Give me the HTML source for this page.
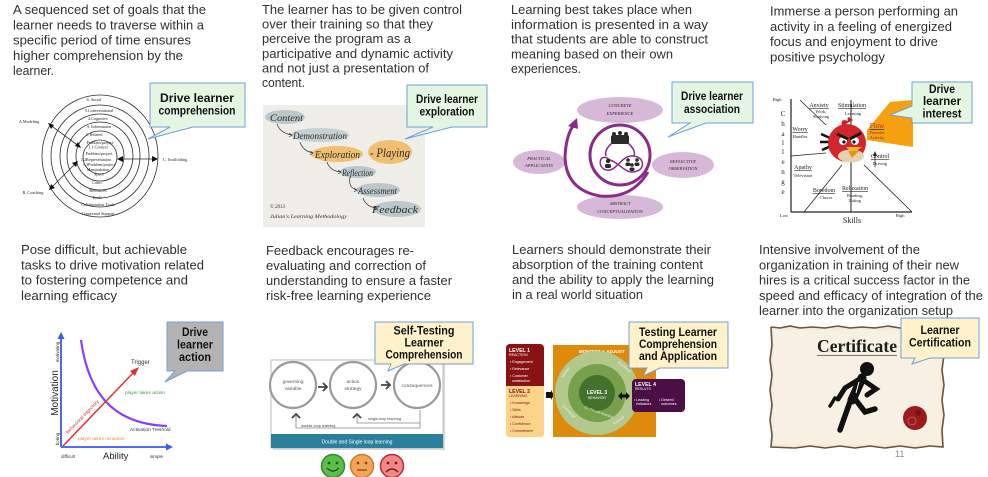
<!DOCTYPE html>
<html><head><meta charset="utf-8">
<style>
html,body{margin:0;padding:0;background:#fff;}
svg{display:block;}
.p{font-family:"Liberation Sans",sans-serif;font-size:13px;fill:#303030;}
.cb{font-family:"Liberation Sans",sans-serif;font-weight:bold;font-size:11.5px;fill:#111;text-anchor:middle;}
.s{font-family:"Liberation Serif",serif;fill:#222;text-anchor:middle;}
.t{font-family:"Liberation Sans",sans-serif;}
.h{font-family:"Liberation Serif",serif;font-style:italic;fill:#2b2b2b;}
</style></head><body>
<svg width="988" height="477" viewBox="0 0 988 477" xmlns="http://www.w3.org/2000/svg">
<rect width="988" height="477" fill="#fff"/>

<!-- ===== Paragraph texts ===== -->
<g class="p">
<text x="13" y="14" textLength="193" lengthAdjust="spacingAndGlyphs">A sequenced set of goals that the</text>
<text x="13" y="29.25" textLength="191" lengthAdjust="spacingAndGlyphs">learner needs to traverse within a</text>
<text x="13" y="44.5" textLength="178" lengthAdjust="spacingAndGlyphs">specific period of time ensures</text>
<text x="13" y="59.75" textLength="170" lengthAdjust="spacingAndGlyphs">higher comprehension by the</text>
<text x="13" y="75" textLength="41" lengthAdjust="spacingAndGlyphs">learner.</text>

<text x="262" y="14" textLength="200" lengthAdjust="spacingAndGlyphs">The learner has to be given control</text>
<text x="262" y="28.6" textLength="171" lengthAdjust="spacingAndGlyphs">over their training so that they</text>
<text x="262" y="43.2" textLength="149" lengthAdjust="spacingAndGlyphs">perceive the program as a</text>
<text x="262" y="57.8" textLength="191" lengthAdjust="spacingAndGlyphs">participative and dynamic activity</text>
<text x="262" y="72.4" textLength="167" lengthAdjust="spacingAndGlyphs">and not just a presentation of</text>
<text x="262" y="87" textLength="43" lengthAdjust="spacingAndGlyphs">content.</text>

<text x="511" y="14" textLength="181" lengthAdjust="spacingAndGlyphs">Learning best takes place when</text>
<text x="511" y="28.75" textLength="197" lengthAdjust="spacingAndGlyphs">information is presented in a way</text>
<text x="511" y="43.5" textLength="197" lengthAdjust="spacingAndGlyphs">that students are able to construct</text>
<text x="511" y="58.25" textLength="162" lengthAdjust="spacingAndGlyphs">meaning based on their own</text>
<text x="511" y="73" textLength="70" lengthAdjust="spacingAndGlyphs">experiences.</text>

<text x="770" y="15.5" textLength="188" lengthAdjust="spacingAndGlyphs">Immerse a person performing an</text>
<text x="770" y="30.8" textLength="182" lengthAdjust="spacingAndGlyphs">activity in a feeling of energized</text>
<text x="770" y="46.1" textLength="168" lengthAdjust="spacingAndGlyphs">focus and enjoyment to drive</text>
<text x="770" y="61.4" textLength="115" lengthAdjust="spacingAndGlyphs">positive psychology</text>

<text x="21" y="254" textLength="166" lengthAdjust="spacingAndGlyphs">Pose difficult, but achievable</text>
<text x="21" y="269.3" textLength="183" lengthAdjust="spacingAndGlyphs">tasks to drive motivation related</text>
<text x="21" y="284.6" textLength="167" lengthAdjust="spacingAndGlyphs">to fostering competence and</text>
<text x="21" y="300" textLength="96" lengthAdjust="spacingAndGlyphs">learning efficacy</text>

<text x="266" y="255" textLength="148" lengthAdjust="spacingAndGlyphs">Feedback encourages re-</text>
<text x="266" y="270" textLength="160" lengthAdjust="spacingAndGlyphs">evaluating and correction of</text>
<text x="266" y="285" textLength="186" lengthAdjust="spacingAndGlyphs">understanding to ensure a faster</text>
<text x="266" y="300" textLength="165" lengthAdjust="spacingAndGlyphs">risk-free learning experience</text>

<text x="512" y="254" textLength="199" lengthAdjust="spacingAndGlyphs">Learners should demonstrate their</text>
<text x="512" y="269" textLength="191" lengthAdjust="spacingAndGlyphs">absorption of the training content</text>
<text x="512" y="284" textLength="202" lengthAdjust="spacingAndGlyphs">and the ability to apply the learning</text>
<text x="512" y="299" textLength="131" lengthAdjust="spacingAndGlyphs">in a real world situation</text>

<text x="759" y="254" textLength="161" lengthAdjust="spacingAndGlyphs">Intensive involvement of the</text>
<text x="759" y="269.25" textLength="200" lengthAdjust="spacingAndGlyphs">organization in training of their new</text>
<text x="759" y="284.5" textLength="211" lengthAdjust="spacingAndGlyphs">hires is a critical success factor in the</text>
<text x="759" y="299.75" textLength="224" lengthAdjust="spacingAndGlyphs">speed and efficacy of integration of the</text>
<text x="759" y="315" textLength="194" lengthAdjust="spacingAndGlyphs">learner into the organization setup</text>
</g>

<!-- ===== Panel 1: concentric circles ===== -->
<g fill="none" stroke="#2a2a2a" stroke-width="0.8">
<ellipse cx="100" cy="156" rx="58" ry="61"/>
<ellipse cx="100" cy="156" rx="49" ry="51"/>
<ellipse cx="100" cy="156" rx="40" ry="42"/>
<ellipse cx="100" cy="156" rx="33" ry="34"/>
<ellipse cx="100" cy="156" rx="24" ry="25"/>
<ellipse cx="100" cy="157" rx="17" ry="17"/>
<line x1="49" y1="124" x2="80" y2="147"/>
<line x1="50" y1="189" x2="77" y2="162"/>
<line x1="157" y1="159" x2="118" y2="159"/>
</g>
<g fill="#111">
<polygon points="48,123 54,125 51,129"/>
<polygon points="81,148 75,146 78,142"/>
<polygon points="49,190 51,184 55,188"/>
<polygon points="78,161 76,167 72,163"/>
<polygon points="158,159 152,156 152,162"/>
<polygon points="117,159 123,156 123,162"/>
</g>
<g class="s" font-size="4.2">
<text x="94" y="101">6. Social</text>
<text x="99" y="112">5.Conversational</text>
<text x="98" y="120">4.Cognitive</text>
<text x="99" y="128">3. Information</text>
<text x="94" y="136">2. Related</text>
<text x="100" y="144">Problem/project</text>
<text x="98" y="148.5">1.1 Context</text>
<text x="99" y="155">Problem/project</text>
<text x="96" y="161">1.2Representation</text>
<text x="99" y="166">1.3Problem/project</text>
<text x="98" y="171">Manipulation</text>
<text x="99" y="175.5">Space</text>
<text x="97" y="184">Cases</text>
<text x="98" y="192">Resources</text>
<text x="97" y="199">Tools</text>
<text x="98" y="206">Collaboration Tools</text>
<text x="98" y="215">Contextual Support</text>
<text x="29" y="123">A.Modeling</text>
<text x="33" y="194">B. Coaching</text>
<text x="175" y="161">C. Scaffolding</text>
</g>
<!-- callout 1 -->
<path d="M150,83 H245 V127 H193 L148,139 L170,127 H150 Z" fill="#e4f5e2" stroke="#6fa0d9" stroke-width="1"/>
<text class="cb" x="197" y="102" textLength="74" lengthAdjust="spacingAndGlyphs">Drive learner</text>
<text class="cb" x="197" y="114.5" textLength="77" lengthAdjust="spacingAndGlyphs">comprehension</text>

<!-- ===== Panel 2: exploration sketch ===== -->
<rect x="263" y="105" width="162" height="122" fill="#efede7"/>
<g opacity="0.75">
<ellipse cx="285" cy="117" rx="20" ry="7" fill="#a9bcc2"/>
<ellipse cx="320" cy="135" rx="29" ry="7" fill="#b7c7cb"/>
<ellipse cx="337" cy="154" rx="26" ry="8" fill="#f1b04a"/>
<ellipse cx="390" cy="152" rx="22" ry="12" fill="#f1b04a"/>
<ellipse cx="358" cy="172" rx="18" ry="6" fill="#a9bcc2"/>
<ellipse cx="378" cy="190" rx="22" ry="7" fill="#a9bcc2"/>
<ellipse cx="397" cy="209" rx="24" ry="8" fill="#a9bcc2"/>
</g>
<g class="h">
<text x="270" y="121" font-size="9" textLength="33" lengthAdjust="spacingAndGlyphs">Content</text>
<text x="293" y="139" font-size="9" textLength="54" lengthAdjust="spacingAndGlyphs">Demonstration</text>
<text x="315" y="158" font-size="10" textLength="45" lengthAdjust="spacingAndGlyphs">Exploration</text>
<text x="370" y="157" font-size="13" textLength="40" lengthAdjust="spacingAndGlyphs">- Playing</text>
<text x="342" y="176" font-size="9" textLength="31" lengthAdjust="spacingAndGlyphs">Reflection</text>
<text x="358" y="194" font-size="9" textLength="39" lengthAdjust="spacingAndGlyphs">Assessment</text>
<text x="372" y="213" font-size="11" textLength="46" lengthAdjust="spacingAndGlyphs">Feedback</text>
<text x="270" y="208" font-size="5">© 2013</text>
<text x="270" y="218" font-size="5.5" textLength="77" lengthAdjust="spacingAndGlyphs">Julian's Learning Methodology</text>
</g>
<g fill="none" stroke="#333" stroke-width="0.7">
<path d="M277,124 Q280,133 292,135"/><path d="M289,133 L292,135 L289,137"/>
<path d="M300,142 Q303,151 313,153"/><path d="M310,151 L313,153 L310,155"/>
<path d="M327,162 Q330,171 341,172"/><path d="M338,170 L341,172 L338,174"/>
<path d="M350,177 Q348,188 357,190"/><path d="M354,188 L357,190 L354,192"/>
<path d="M363,198 Q366,207 377,208"/><path d="M374,206 L377,208 L374,210"/>
</g>
<!-- callout 2 -->
<path d="M407,85 H487 V127 H452 L405,139 L433,127 H407 Z" fill="#e4f5e2" stroke="#6fa0d9" stroke-width="1"/>
<text class="cb" x="447" y="103" textLength="62" lengthAdjust="spacingAndGlyphs">Drive learner</text>
<text class="cb" x="447" y="115.5" textLength="55" lengthAdjust="spacingAndGlyphs">exploration</text>

<!-- ===== Panel 3: learning cycle ===== -->
<g fill="#d8b8d8">
<ellipse cx="620" cy="110" rx="43" ry="13"/>
<ellipse cx="539" cy="162" rx="26" ry="12"/>
<ellipse cx="683" cy="165" rx="31" ry="13"/>
<ellipse cx="620" cy="207" rx="43" ry="12"/>
</g>
<g class="h" font-size="4.5" fill="#4a2050" text-anchor="middle" font-style="normal">
<text x="620" y="107" text-anchor="middle">CONCRETE</text>
<text x="620" y="115" text-anchor="middle">EXPERIENCE</text>
<text x="539" y="160" text-anchor="middle">PRACTICAL</text>
<text x="539" y="167" text-anchor="middle">APPLICATION</text>
<text x="683" y="163" text-anchor="middle">REFLECTIVE</text>
<text x="683" y="170" text-anchor="middle">OBSERVATION</text>
<text x="620" y="205" text-anchor="middle">ABSTRACT</text>
<text x="620" y="213" text-anchor="middle">CONCEPTUALIZATION</text>
</g>
<circle cx="620" cy="155" r="30" fill="#fff" stroke="#8b2a8b" stroke-width="3"/>
<path d="M648,172 Q632,199 600,196 Q566,190 565,157 Q566,136 573,126" fill="none" stroke="#8b2a8b" stroke-width="3"/>
<polygon points="577,118 568,126 578,129" fill="#8b2a8b"/>
<g fill="none" stroke="#8b2a8b" stroke-width="1.5">
<path d="M610,160 C598,150 596,172 610,170 C618,168 622,156 632,156 C646,156 646,172 632,172 C624,172 618,162 610,160"/>
<path d="M612,143 Q604,150 606,156"/>
<path d="M628,143 Q636,150 634,156"/>
</g>
<g fill="#2a2a2a">
<rect x="611" y="135" width="18" height="9" rx="2"/>
<circle cx="614" cy="134" r="2"/><circle cx="620" cy="133" r="2"/><circle cx="626" cy="134" r="2"/>
<circle cx="608" cy="161" r="2.2"/><rect x="605" y="164" width="6" height="4" rx="1.5"/>
<circle cx="628" cy="160" r="1.8"/><rect x="625.5" y="162.5" width="5" height="3.5" rx="1.5"/>
<circle cx="637" cy="160" r="1.8"/><rect x="634.5" y="162.5" width="5" height="3.5" rx="1.5"/>
<circle cx="632" cy="165" r="1.8"/><rect x="629.5" y="167.5" width="5" height="3.5" rx="1.5"/>
</g>
<!-- callout 3 -->
<path d="M672,82 H753 V123 H706 L668,137 L690,123 H672 Z" fill="#e4f5e2" stroke="#6fa0d9" stroke-width="1"/>
<text class="cb" x="712" y="100" textLength="62" lengthAdjust="spacingAndGlyphs">Drive learner</text>
<text class="cb" x="712" y="113" textLength="56" lengthAdjust="spacingAndGlyphs">association</text>

<!-- ===== Panel 4: flow chart ===== -->
<polygon points="867,130 890,102 913,100 913,147 867,140" fill="#f5a00f"/>
<g stroke="#222" fill="none">
<line x1="791" y1="99" x2="791" y2="212" stroke-width="1.2"/>
<line x1="791" y1="212" x2="912" y2="212" stroke-width="1.2"/>
<line x1="851" y1="100" x2="851" y2="212" stroke-width="1"/>
<line x1="800" y1="100" x2="826" y2="125" stroke-width="0.8"/>
<line x1="791" y1="156" x2="826" y2="153" stroke-width="0.8"/>
<line x1="804" y1="212" x2="842" y2="165" stroke-width="0.8"/>
<line x1="864" y1="165" x2="912" y2="212" stroke-width="0.8"/>
<line x1="875" y1="167" x2="875" y2="154" stroke-width="0.8"/>
</g>
<polygon points="875,151 873,156 877,156" fill="#222"/>
<g class="s" font-size="4.5" text-anchor="start" fill="#333">
<text x="777" y="101">High</text>
<text x="784" y="217">Low</text>
<text x="900" y="217">High</text>
<text x="821" y="113">Work,</text><text x="821" y="118">Studying</text>
<text x="853" y="115">Learning</text>
<text x="800" y="138">Handles</text>
<text x="877" y="134" fill="#8a2a10">Favorite</text><text x="877" y="139" fill="#8a2a10">Activity</text>
<text x="880" y="165">Driving</text>
<text x="803" y="177">Television</text>
<text x="826" y="199">Chores</text>
<text x="855" y="197">Reading,</text><text x="855" y="202">Eating</text>
</g>
<g class="s" font-size="6" text-anchor="start" fill="#222" text-decoration="underline">
<text x="819" y="107">Anxiety</text>
<text x="852" y="107">Stimulation</text>
<text x="800" y="131">Worry</text>
<text x="877" y="128" fill="#b02a10" font-size="7">Flow</text>
<text x="880" y="158">Control</text>
<text x="803" y="169">Apathy</text>
<text x="824" y="192">Boredom</text>
<text x="855" y="190">Relaxation</text>
</g>
<text class="s" x="852" y="223" font-size="8">Skills</text>
<g class="s" font-size="7" fill="#222">
<text x="783" y="116">C</text><text x="783" y="126">h</text><text x="783" y="136">a</text>
<text x="783" y="145">l</text><text x="783" y="154">l</text><text x="783" y="164">e</text>
<text x="783" y="174">n</text><text x="783" y="184">g</text><text x="783" y="194">e</text>
</g>
<!-- angry bird -->
<g>
<path d="M830,138 L821,134 M830,142 L820,142 M831,146 L822,150" stroke="#111" stroke-width="2.5"/>
<path d="M842,126 Q840,118 848,121 Q846,114 853,120" fill="#c0202a"/>
<circle cx="847" cy="143" r="19" fill="#d3262b"/>
<ellipse cx="851" cy="156" rx="13" ry="6.5" fill="#e6d2b2"/>
<circle cx="843" cy="141" r="4" fill="#fff"/><circle cx="855" cy="141" r="4" fill="#fff"/>
<circle cx="844" cy="142" r="1.6" fill="#111"/><circle cx="854" cy="142" r="1.6" fill="#111"/>
<path d="M837,134 L848,139 M850,139 L861,133" stroke="#111" stroke-width="2.8"/>
<polygon points="846,147 862,147 853,153" fill="#f7b51e"/>
<polygon points="848,151 859,151 852,158" fill="#e2961a"/>
</g>
<!-- callout 4 -->
<path d="M912,82 H972 V123 H912 V118 L890,115 L912,106 Z" fill="#e4f5e2" stroke="#6fa0d9" stroke-width="1"/>
<text class="cb" x="942" y="93" textLength="26" lengthAdjust="spacingAndGlyphs">Drive</text>
<text class="cb" x="942" y="105" textLength="38" lengthAdjust="spacingAndGlyphs">learner</text>
<text class="cb" x="942" y="117.5" textLength="39" lengthAdjust="spacingAndGlyphs">interest</text>

<!-- ===== Panel 5: motivation chart ===== -->
<g stroke="#3a5ae8" stroke-width="1.8" fill="none">
<line x1="61" y1="447" x2="61" y2="338"/>
<line x1="61" y1="447" x2="169" y2="447"/>
</g>
<polygon points="61,332 57.5,339 64.5,339" fill="#3a5ae8"/>
<polygon points="173,447 166,443.5 166,450.5" fill="#3a5ae8"/>
<path d="M81,340 C88,390 110,424 167,426" fill="none" stroke="#8a3ffc" stroke-width="2.2"/>
<line x1="63" y1="446" x2="135" y2="371" stroke="#e03131" stroke-width="1.5"/>
<polygon points="139,367 130,371 135,376" fill="#e03131"/>
<text class="t" x="0" y="0" font-size="5" fill="#e03131" transform="translate(68,434) rotate(-46)">behavioral trajectory</text>
<text class="t" x="0" y="0" font-size="10" fill="#222" text-anchor="middle" transform="translate(58,393) rotate(-90)">Motivation</text>
<text class="t" x="0" y="0" font-size="4.5" fill="#333" text-anchor="middle" transform="translate(59,352) rotate(-90)">motivating</text>
<text class="t" x="0" y="0" font-size="4.5" fill="#333" text-anchor="middle" transform="translate(59,439) rotate(-90)">boring</text>
<g class="t" fill="#333">
<text x="61" y="458" font-size="4.5">difficult</text>
<text x="103" y="459" font-size="9.5" fill="#222">Ability</text>
<text x="150" y="458" font-size="4.5">simple</text>
<text x="131" y="364" font-size="6">Trigger</text>
<text x="125" y="394" font-size="4.8" fill="#3d9a3d">player takes action</text>
<text x="130" y="431" font-size="4.8">Activation Treshold</text>
<text x="78" y="440" font-size="4.8" fill="#f08a2a">player takes no action</text>
</g>
<!-- callout 5 -->
<path d="M167,322 H223 V371 H187 L165,382 L175,371 H167 Z" fill="#b3b3b3" stroke="#6fa0d9" stroke-width="1"/>
<text class="cb" x="195" y="336" font-size="12" textLength="26" lengthAdjust="spacingAndGlyphs">Drive</text>
<text class="cb" x="195" y="348.5" font-size="12" textLength="36" lengthAdjust="spacingAndGlyphs">learner</text>
<text class="cb" x="195" y="361" font-size="12" textLength="32" lengthAdjust="spacingAndGlyphs">action</text>

<!-- ===== Panel 6: loop learning ===== -->
<rect x="273" y="362" width="172" height="88" fill="#d8d8d8"/>
<rect x="271" y="360" width="172" height="88" fill="#fff" stroke="#bdbdbd" stroke-width="1"/>
<rect x="271" y="434" width="172" height="14" fill="#2b7f9e"/>
<text class="t" x="357" y="443.5" font-size="5" fill="#fff" text-anchor="middle">Double and Single loop learning</text>
<g fill="#fff" stroke="#9a9a9a" stroke-width="2.2">
<circle cx="293" cy="385" r="23"/>
<circle cx="353" cy="385" r="23"/>
<circle cx="417" cy="385" r="23"/>
</g>
<g class="t" font-size="4.8" fill="#555" text-anchor="middle">
<text x="293" y="383">governing</text><text x="293" y="390">variable</text>
<text x="353" y="383">action</text><text x="353" y="390">strategy</text>
<text x="417" y="387">consequences</text>
</g>
<g fill="none" stroke="#444" stroke-width="1.8">
<path d="M318,387 H327 M323,383 L327,387 L323,391"/>
<path d="M381,385 H390 M386,381 L390,385 L386,389"/>
<path d="M292,418 L296,414 L300,418"/>
<path d="M353,418 L357,414 L361,418"/>
</g>
<g fill="none" stroke="#888" stroke-width="0.8">
<path d="M420,410 V423 H357 V415"/>
<path d="M420,423 V428 H296 V415"/>
</g>
<g class="t" font-size="3.8" fill="#444">
<text x="368" y="420">single-loop learning</text>
<text x="301" y="427">double-loop learning</text>
</g>
<!-- smileys -->
<g>
<circle cx="333" cy="466" r="11.5" fill="#5bbd4a" stroke="#2f8a2a" stroke-width="1.5"/>
<circle cx="329" cy="463" r="1.4" fill="#1d5a1d"/><circle cx="337" cy="463" r="1.4" fill="#1d5a1d"/>
<path d="M327,468 Q333,474 339,468" fill="none" stroke="#1d5a1d" stroke-width="1.3"/>
<circle cx="362" cy="466" r="11.5" fill="#f3a45a" stroke="#d0782a" stroke-width="1.5"/>
<circle cx="358" cy="463" r="1.4" fill="#8a4a10"/><circle cx="366" cy="463" r="1.4" fill="#8a4a10"/>
<line x1="357" y1="470" x2="367" y2="470" stroke="#8a4a10" stroke-width="1.3"/>
<circle cx="392" cy="466" r="11.5" fill="#f08a8a" stroke="#c0282d" stroke-width="1.5"/>
<circle cx="388" cy="463" r="1.4" fill="#8a1010"/><circle cx="396" cy="463" r="1.4" fill="#8a1010"/>
<path d="M386,472 Q392,466 398,472" fill="none" stroke="#8a1010" stroke-width="1.3"/>
</g>
<!-- callout 6 -->
<path d="M375,322 H473 V364 H404 L388,371 L391,364 H375 Z" fill="#fff1c9" stroke="#6fa0d9" stroke-width="1"/>
<text class="cb" x="424" y="334.5" textLength="61" lengthAdjust="spacingAndGlyphs">Self-Testing</text>
<text class="cb" x="424" y="346.5" textLength="39" lengthAdjust="spacingAndGlyphs">Learner</text>
<text class="cb" x="424" y="358.5" textLength="77" lengthAdjust="spacingAndGlyphs">Comprehension</text>

<!-- ===== Panel 7: Kirkpatrick ===== -->
<rect x="506" y="344" width="38" height="46" rx="4" fill="#8b1212"/>
<rect x="506" y="386" width="38" height="51" rx="3" fill="#fcd489"/>
<rect x="506" y="386" width="38" height="4" fill="#fcd489"/>
<g class="t" font-size="3.6" fill="#fff">
<text x="509" y="352" font-size="5.2" font-weight="bold">LEVEL 1</text>
<text x="509" y="356">REACTION</text>
<text x="510" y="363">• Engagement</text>
<text x="510" y="370">• Relevance</text>
<text x="510" y="377">• Customer</text>
<text x="512" y="382">satisfaction</text>
</g>
<g class="t" font-size="3.6" fill="#7a1010">
<text x="509" y="393" font-size="5.2" font-weight="bold">LEVEL 2</text>
<text x="509" y="397">LEARNING</text>
<text x="510" y="404">• Knowledge</text>
<text x="510" y="411">• Skills</text>
<text x="510" y="418">• Attitude</text>
<text x="510" y="425">• Confidence</text>
<text x="510" y="432">• Commitment</text>
</g>
<polygon points="546,392 551,392 551,390 554,395 551,400 551,398 546,398" fill="#111"/>
<rect x="553" y="345" width="103" height="92" fill="#de8a0a"/>
<text class="t" x="579" y="353" font-size="4.6" font-weight="bold" fill="#fff">MONITOR &amp; ADJUST</text>
<circle cx="597" cy="393" r="42" fill="#b3c88c"/>
<circle cx="597" cy="393" r="29" fill="#76a04a"/>
<circle cx="597" cy="393" r="18" fill="#44722c"/>
<text class="t" x="597" y="394" font-size="5" font-weight="bold" fill="#fff" text-anchor="middle">LEVEL 3</text>
<text class="t" x="597" y="399" font-size="3.5" fill="#fff" text-anchor="middle">BEHAVIOR</text>
<g class="t" font-size="3.6" fill="#eef4e0">
<text x="0" y="0" transform="translate(563,378) rotate(-55)">Monitor</text>
<text x="0" y="0" transform="translate(618,363) rotate(40)">Reinforce</text>
<text x="0" y="0" transform="translate(562,406) rotate(45)">Encourage</text>
<text x="0" y="0" transform="translate(614,425) rotate(-35)">Reward</text>
<text x="0" y="0" transform="translate(584,408) rotate(20)">On-the-job learning</text>
</g>
<polygon points="618,396 622,392 622,394.5 626,394.5 626,392 630,396 626,400 626,397.5 622,397.5 622,400" fill="#111"/>
<rect x="632" y="379" width="53" height="33" rx="4" fill="#4b0f45"/>
<g class="t" fill="#fff">
<text x="635" y="386" font-size="5.2" font-weight="bold">LEVEL 4</text>
<text x="635" y="390" font-size="3.5">RESULTS</text>
<text x="634" y="401" font-size="3.6">• Leading</text>
<text x="636" y="405" font-size="3.6">indicators</text>
<text x="659" y="401" font-size="3.6">• Desired</text>
<text x="661" y="405" font-size="3.6">outcomes</text>
</g>
<!-- callout 7 -->
<path d="M629,322 H728 V368 H660 L643,376 L647,368 H629 Z" fill="#fff1c9" stroke="#6fa0d9" stroke-width="1"/>
<text class="cb" x="678" y="336" font-size="12" textLength="78" lengthAdjust="spacingAndGlyphs">Testing Learner</text>
<text class="cb" x="678" y="348" font-size="12" textLength="78" lengthAdjust="spacingAndGlyphs">Comprehension</text>
<text class="cb" x="678" y="360" font-size="12" textLength="78" lengthAdjust="spacingAndGlyphs">and Application</text>

<!-- ===== Panel 8: certificate ===== -->
<rect x="771" y="327" width="172" height="120" fill="#f4ebda"/>
<rect x="774" y="330" width="166" height="114" fill="#f7f0e3"/>
<polyline points="771,327 780,328 790,326 800,328 812,327 825,328 838,326 850,328 862,327 875,328 888,326 900,328 912,327 925,328 943,327 942,340 944,355 942,370 944,385 942,400 944,415 942,430 943,447 930,446 915,448 900,446 885,448 870,446 855,448 840,446 825,448 810,446 795,448 771,447 772,435 770,420 772,405 770,390 772,375 770,360 772,345 771,327" fill="none" stroke="#6a5440" stroke-width="1.6"/>
<text x="817" y="352" font-family="Liberation Serif,serif" font-weight="bold" font-size="18" fill="#1d1d1d" textLength="80" lengthAdjust="spacingAndGlyphs">Certificate</text>
<rect x="817" y="355" width="80" height="1" fill="#777"/>
<!-- figure -->
<g stroke="#111" stroke-linecap="round" fill="none">
<line x1="862" y1="378" x2="852" y2="400" stroke-width="9"/>
<path d="M858,380 L845,388 L838,399" stroke-width="5"/>
<path d="M863,380 L876,389 L867,395" stroke-width="5"/>
<path d="M851,399 L846,413 L840,430" stroke-width="5.5"/>
<path d="M855,399 L865,412 L875,409" stroke-width="5.5"/>
<line x1="835" y1="398" x2="830" y2="406" stroke-width="3.5"/>
</g>
<circle cx="867" cy="369" r="7" fill="#111"/>
<path d="M859,382 L856,393" stroke="#fff" stroke-width="1"/>
<!-- seal -->
<circle cx="915" cy="418" r="12" fill="#9b1c1c"/>
<circle cx="912" cy="421" r="4" fill="none" stroke="#c86060" stroke-width="0.8"/>
<circle cx="918" cy="413" r="3" fill="#7a1010"/>
<!-- callout 8 -->
<path d="M901,318 H979 V358 H930 L912,364 L915,358 H901 Z" fill="#fff1c9" stroke="#6fa0d9" stroke-width="1"/>
<text class="cb" x="940" y="334" textLength="39" lengthAdjust="spacingAndGlyphs">Learner</text>
<text class="cb" x="940" y="346.5" textLength="62" lengthAdjust="spacingAndGlyphs">Certification</text>

<text class="t" x="895" y="457" font-size="9" fill="#8a8a8a">11</text>
</svg>
</body></html>
